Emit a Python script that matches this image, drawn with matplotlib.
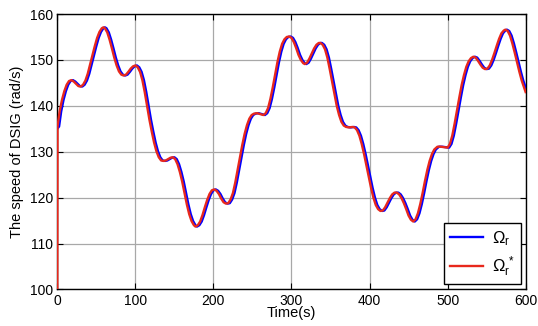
import matplotlib.pyplot as plt

plt.rcParams['font.family'] = ['Liberation Sans', 'DejaVu Sans']

# reference speed (red)
t_ref = [0, 0.3, 3, 6, 9, 12, 15, 18, 21, 24, 27, 30, 33, 36, 39, 42, 45, 48, 51, 54,
         57, 59, 61, 64, 67, 70, 73, 76, 79, 82, 85, 88, 91, 94, 97, 100, 103, 106,
         109, 112, 115, 118, 121, 124, 127, 130, 133, 136, 139, 142, 145, 148, 151,
         154, 157, 160, 163, 166, 169, 172, 175, 177, 180, 183, 186, 189, 192, 195,
         198, 201, 204, 207, 210, 213, 216, 219, 222, 225, 228, 231, 234, 237, 240,
         243, 246, 249, 252, 256, 260, 264, 267, 270, 273, 276, 279, 282, 285, 288,
         291, 294, 297, 300, 303, 306, 309, 312, 315, 317, 320, 323, 326, 329, 332,
         335, 337, 340, 343, 346, 349, 352, 355, 358, 361, 364, 367, 370, 374, 378,
         381, 384, 387, 390, 393, 396, 399, 402, 405, 408, 411, 414, 417, 420, 423,
         426, 429, 432, 435, 438, 441, 444, 447, 450, 453, 456, 459, 462, 465, 468,
         471, 474, 477, 480, 483, 487, 491, 496, 500, 503, 506, 509, 512, 515, 518,
         521, 524, 527, 530, 533, 536, 539, 542, 545, 548, 551, 554, 557, 560, 563,
         566, 569, 572, 574, 577, 580, 583, 586, 589, 592, 595, 598, 600]
w_ref = [100, 135.5, 138.8, 141.3, 143.2, 144.6, 145.4, 145.6, 145.3, 144.8, 144.3,
         144.2, 144.6, 145.5, 147.0, 149, 151, 153, 154.8, 156.1, 156.9, 157.1, 156.9,
         156, 154.4, 152.5, 150.5, 148.8, 147.5, 146.8, 146.6, 146.8, 147.4, 148.1,
         148.6, 148.8, 148.4, 147.4, 145.6, 143, 140, 137, 134.4, 132, 130.1, 128.8,
         128.1, 128.0, 128.1, 128.4, 128.7, 128.8, 128.4, 127.3, 125.6, 123.5, 121,
         118.5, 116.4, 114.9, 114.0, 113.7, 114.0, 114.8, 116.2, 117.9, 119.5, 120.8,
         121.6, 121.8, 121.5, 120.8, 119.8, 119.0, 118.7, 118.8, 119.6, 121, 123.3,
         126, 128.8, 131.5, 133.9, 135.8, 137.2, 138.0, 138.3, 138.4, 138.2, 138.0,
         138.4, 139.5, 141.5, 144, 146.8, 149.5, 151.8, 153.5, 154.5, 155.0, 155.1,
         154.8, 153.9, 152.6, 151.1, 150.0, 149.3, 149.1, 149.4, 150.3, 151.4, 152.5,
         153.3, 153.7, 153.7, 153.3, 152.3, 150.5, 148, 145.3, 142.5, 140.0, 138,
         136.5, 135.7, 135.4, 135.3, 135.4, 135.3, 134.7, 133.5, 131.7, 129.5, 127.0,
         124.5, 122.1, 120.0, 118.4, 117.5, 117.1, 117.2, 117.9, 118.9, 119.9, 120.7,
         121.1, 121.1, 120.7, 119.9, 118.8, 117.5, 116.1, 115.2, 114.8, 115.3, 116.6,
         118.6, 121, 123.6, 126, 128, 129.5, 130.5, 131.1, 131.1, 131.0, 130.9, 131.7,
         133.5, 136.1, 139, 141.8, 144.5, 146.7, 148.5, 149.7, 150.4, 150.7, 150.5,
         149.8, 149.0, 148.3, 148.0, 148.1, 148.8, 150.0, 151.5, 153.1, 154.6, 155.8,
         156.4, 156.6, 156.3, 155.3, 153.6, 151.6, 149.5, 147.4, 145.5, 144.0, 143.0]

# measured speed (blue), lags the reference by about 2 s
t_meas = [0, 2.3, 5, 8, 11, 14, 17, 20, 23, 26, 29, 32, 35, 38, 41, 44, 47, 50, 53, 56,
          59, 61, 63, 66, 69, 72, 75, 78, 81, 84, 87, 90, 93, 96, 99, 102, 105, 108,
          111, 114, 117, 120, 123, 126, 129, 132, 135, 138, 141, 144, 147, 150, 153,
          156, 159, 162, 165, 168, 171, 174, 177, 179, 182, 185, 188, 191, 194, 197,
          200, 203, 206, 209, 212, 215, 218, 221, 224, 227, 230, 233, 236, 239, 242,
          245, 248, 251, 254, 258, 262, 266, 269, 272, 275, 278, 281, 284, 287, 290,
          293, 296, 299, 302, 305, 308, 311, 314, 317, 319, 322, 325, 328, 331, 334,
          337, 339, 342, 345, 348, 351, 354, 357, 360, 363, 366, 369, 372, 376, 380,
          383, 386, 389, 392, 395, 398, 401, 404, 407, 410, 413, 416, 419, 422, 425,
          428, 431, 434, 437, 440, 443, 446, 449, 452, 455, 458, 461, 464, 467, 470,
          473, 476, 479, 482, 485, 489, 493, 498, 502, 505, 508, 511, 514, 517, 520,
          523, 526, 529, 532, 535, 538, 541, 544, 547, 550, 553, 556, 559, 562, 565,
          568, 571, 574, 576, 579, 582, 585, 588, 591, 594, 597, 600, 602]
w_meas = [135.0, 135.5, 138.8, 141.3, 143.2, 144.6, 145.4, 145.6, 145.3, 144.8, 144.3,
          144.2, 144.6, 145.5, 147.0, 149, 151, 153, 154.8, 156.1, 156.9, 157.1, 156.9,
          156, 154.4, 152.5, 150.5, 148.8, 147.5, 146.8, 146.6, 146.8, 147.4, 148.1,
          148.6, 148.8, 148.4, 147.4, 145.6, 143, 140, 137, 134.4, 132, 130.1, 128.8,
          128.1, 128.0, 128.1, 128.4, 128.7, 128.8, 128.4, 127.3, 125.6, 123.5, 121,
          118.5, 116.4, 114.9, 114.0, 113.7, 114.0, 114.8, 116.2, 117.9, 119.5, 120.8,
          121.6, 121.8, 121.5, 120.8, 119.8, 119.0, 118.7, 118.8, 119.6, 121, 123.3,
          126, 128.8, 131.5, 133.9, 135.8, 137.2, 138.0, 138.3, 138.4, 138.2, 138.0,
          138.4, 139.5, 141.5, 144, 146.8, 149.5, 151.8, 153.5, 154.5, 155.0, 155.1,
          154.8, 153.9, 152.6, 151.1, 150.0, 149.3, 149.1, 149.4, 150.3, 151.4, 152.5,
          153.3, 153.7, 153.7, 153.3, 152.3, 150.5, 148, 145.3, 142.5, 140.0, 138,
          136.5, 135.7, 135.4, 135.3, 135.4, 135.3, 134.7, 133.5, 131.7, 129.5, 127.0,
          124.5, 122.1, 120.0, 118.4, 117.5, 117.1, 117.2, 117.9, 118.9, 119.9, 120.7,
          121.1, 121.1, 120.7, 119.9, 118.8, 117.5, 116.1, 115.2, 114.8, 115.3, 116.6,
          118.6, 121, 123.6, 126, 128, 129.5, 130.5, 131.1, 131.1, 131.0, 130.9, 131.7,
          133.5, 136.1, 139, 141.8, 144.5, 146.7, 148.5, 149.7, 150.4, 150.7, 150.5,
          149.8, 149.0, 148.3, 148.0, 148.1, 148.8, 150.0, 151.5, 153.1, 154.6, 155.8,
          156.4, 156.6, 156.3, 155.3, 153.6, 151.6, 149.5, 147.4, 145.5, 144.0, 143.0]

xticks = [0, 100, 200, 300, 400, 500, 600]
yticks = [100, 110, 120, 130, 140, 150, 160]

fig = plt.figure(figsize=(5.38, 3.26), dpi=100)
ax = fig.add_axes([0.1065, 0.112, 0.8705, 0.845])

ax.plot(t_meas, w_meas, color='#0000ff', lw=1.7, solid_joinstyle='round',
        zorder=3, label=r'$\mathregular{\Omega_r}$')
ax.plot(t_ref, w_ref, color='#e8281c', lw=1.7, solid_joinstyle='round',
        zorder=3.1, label=r'$\mathregular{\Omega_r^{\,*}}$')

ax.set_xlim(0, 600)
ax.set_ylim(100, 160)
ax.set_xticks(xticks)
ax.set_yticks(yticks)
ax.grid(True, color='#a8a8a8', lw=0.9)
ax.tick_params(direction='in', top=True, right=True, labelsize=10, length=4, pad=3)
for s in ax.spines.values():
    s.set_linewidth(1.0)

ax.set_xlabel('Time(s)', fontsize=10.5, labelpad=-1)
ax.set_ylabel('The speed of DSIG (rad/s)', fontsize=10.5, labelpad=4)

leg = ax.legend(loc='lower right', fontsize=12, fancybox=False, framealpha=1,
                edgecolor='black', borderaxespad=0.3, handlelength=2.0,
                handletextpad=0.5, labelspacing=0.4, borderpad=0.35)
leg.get_frame().set_linewidth(1.0)

fig.savefig('out.png', dpi=100)
